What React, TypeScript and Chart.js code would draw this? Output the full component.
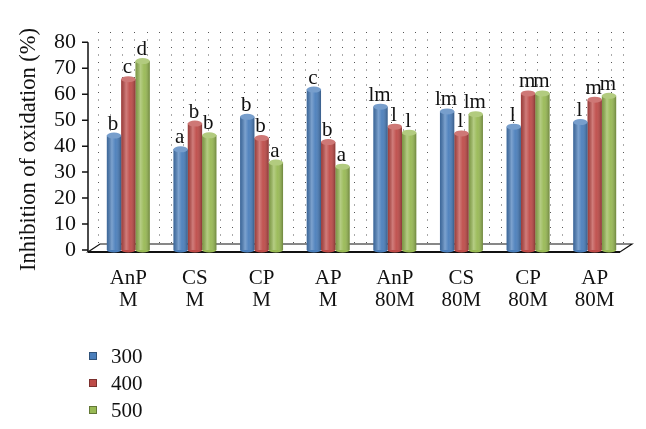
import React, { useEffect, useRef } from 'react';
import { Chart, registerables } from 'chart.js';

Chart.register(...registerables);

// ---- data ----
const categories: string[][] = [
  ['AnP', 'M'], ['CS', 'M'], ['CP', 'M'], ['AP', 'M'],
  ['AnP', '80M'], ['CS', '80M'], ['CP', '80M'], ['AP', '80M'],
];
const seriesLabels = ['300', '400', '500'];
const values300 = [44.1, 38.8, 51.3, 61.8, 55.2, 53.4, 47.5, 49.3];
const values400 = [65.8, 48.7, 43.1, 41.6, 47.5, 44.9, 60.3, 57.9];
const values500 = [72.8, 44.2, 33.7, 32.1, 45.2, 52.3, 60.3, 59.4];
const letters300 = ['b', 'a', 'b', 'c', 'lm', 'lm', 'l', 'l'];
const letters400 = ['c', 'b', 'b', 'b', 'l', 'l', 'm', 'm'];
const letters500 = ['d', 'b', 'a', 'a', 'l', 'lm', 'm', 'm'];
const yTicks = [0, 10, 20, 30, 40, 50, 60, 70, 80];
const yTitle = 'Inhibition of oxidation (%)';

// ---- styles ----
const seriesColors = ['#4a7ebb', '#be4b48', '#98b954'];
const FONT = '"Liberation Serif", "Times New Roman", serif';
const TEXT = '#111';

function lighten(hex: string, t: number) {
  const n = parseInt(hex.slice(1), 16);
  const r = (n >> 16) & 255, g = (n >> 8) & 255, b = n & 255;
  const m = (c: number) => Math.round(c + (255 - c) * t);
  return `rgb(${m(r)},${m(g)},${m(b)})`;
}

const floorAndAxisPlugin = {
  id: 'floorAndAxis',
  beforeDatasetsDraw(chart: any) {
    const { ctx, chartArea: a, scales } = chart;
    const ys = scales.y;
    const y0 = ys.getPixelForValue(0);
    ctx.save();
    ctx.beginPath();
    ctx.moveTo(a.left - 7, y0 + 2);
    ctx.lineTo(a.right - 8, y0 + 2);
    ctx.lineTo(a.right + 4, y0 - 6);
    ctx.lineTo(a.left + 5, y0 - 6);
    ctx.closePath();
    ctx.fillStyle = '#fff';
    ctx.fill();
    ctx.strokeStyle = '#111';
    ctx.lineWidth = 1.2;
    ctx.stroke();
    ctx.beginPath();
    ctx.lineWidth = 2;
    ctx.moveTo(a.left - 7, y0 + 2);
    ctx.lineTo(a.right - 8, y0 + 2);
    ctx.stroke();
    const ax = a.left - 7;
    ctx.lineWidth = 1.5;
    ctx.beginPath();
    ctx.moveTo(ax, ys.getPixelForValue(yTicks[yTicks.length - 1]));
    ctx.lineTo(ax, y0 + 2);
    for (const v of yTicks) {
      const py = ys.getPixelForValue(v);
      ctx.moveTo(ax - 6, py);
      ctx.lineTo(ax, py);
    }
    ctx.stroke();
    ctx.restore();
  },
};

const cylinderAndLettersPlugin = {
  id: 'cylLetters',
  afterDatasetsDraw(chart: any) {
    const { ctx } = chart;
    const allLetters = [letters300, letters400, letters500];
    ctx.save();
    chart.data.datasets.forEach((ds: any, di: number) => {
      const meta = chart.getDatasetMeta(di);
      meta.data.forEach((el: any, i: number) => {
        const { x, y, base, width } = el.getProps(['x', 'y', 'base', 'width'], true);
        const l = x - width / 2;
        const g = ctx.createLinearGradient(l, 0, l + width, 0);
        g.addColorStop(0, 'rgba(0,0,0,0.18)');
        g.addColorStop(0.35, 'rgba(255,255,255,0.28)');
        g.addColorStop(0.6, 'rgba(255,255,255,0.05)');
        g.addColorStop(1, 'rgba(0,0,0,0.28)');
        ctx.fillStyle = g;
        ctx.fillRect(l, y, width, base - y);
        ctx.beginPath();
        ctx.ellipse(x, base, width / 2, 2.5, 0, 0, Math.PI);
        ctx.fillStyle = ds.backgroundColor;
        ctx.fill();
        ctx.beginPath();
        ctx.ellipse(x, y, width / 2, 3, 0, 0, Math.PI * 2);
        ctx.fillStyle = lighten(seriesColors[di], 0.25);
        ctx.fill();
        ctx.fillStyle = TEXT;
        ctx.font = `21px ${FONT}`;
        ctx.textAlign = 'center';
        ctx.textBaseline = 'alphabetic';
        ctx.fillText(allLetters[di][i], x - 1, y - 6);
      });
    });
    ctx.restore();
  },
};

const legendPlugin = {
  id: 'vertLegend',
  afterDraw(chart: any) {
    const { ctx, chartArea: a } = chart;
    ctx.save();
    ctx.font = `21px ${FONT}`;
    ctx.textAlign = 'left';
    ctx.textBaseline = 'middle';
    chart.data.datasets.forEach((ds: any, i: number) => {
      const cy = a.bottom + 106 + i * 27;
      const bx = a.left - 6;
      ctx.fillStyle = ds.backgroundColor;
      ctx.fillRect(bx, cy - 4, 8, 8);
      ctx.strokeStyle = 'rgba(0,0,0,0.35)';
      ctx.lineWidth = 1;
      ctx.strokeRect(bx + 0.5, cy - 3.5, 7, 7);
      ctx.fillStyle = TEXT;
      ctx.fillText(ds.label, bx + 22, cy + 1);
    });
    ctx.restore();
  },
};

export default function App() {
  const ref = useRef<HTMLCanvasElement>(null);
  useEffect(() => {
    document.body.style.margin = '0';
    const seriesValues = [values300, values400, values500];
    const chart = new Chart(ref.current as HTMLCanvasElement, {
      type: 'bar',
      data: {
        labels: categories,
        datasets: seriesLabels.map((lab, i) => ({
          label: lab,
          data: seriesValues[i],
          backgroundColor: seriesColors[i],
          borderWidth: 0,
          barPercentage: 1,
          categoryPercentage: 0.645,
          xAxisID: 'x',
          yAxisID: 'y',
        })),
      },
      options: {
        responsive: false,
        devicePixelRatio: 1,
        animation: false,
        layout: { padding: { top: 14, right: 18, bottom: 119, left: 0 } },
        plugins: { legend: { display: false }, tooltip: { enabled: false } },
        scales: {
          x: {
            type: 'category',
            offset: true,
            grid: { display: false, drawTicks: false },
            border: { display: false },
            ticks: {
              color: TEXT,
              font: { family: FONT, size: 21, lineHeight: 1.05 },
              padding: 17,
              maxRotation: 0,
              autoSkip: false,
            },
            afterFit: (s: any) => { s.height = 60; },
          },
          xDots: {
            type: 'linear',
            position: 'top',
            min: -0.264,
            max: 42.376,
            grid: { display: true, drawTicks: false, color: '#555', lineWidth: 1, drawOnChartArea: true },
            border: { display: false, dash: [1, 6.5] },
            ticks: { display: false, stepSize: 1, includeBounds: false, maxTicksLimit: 100 },
            afterFit: (s: any) => { s.height = 0; },
          },
          y: {
            type: 'linear',
            position: 'left',
            min: 0,
            max: 83.9,
            grid: { display: false, drawTicks: false },
            border: { display: false },
            afterBuildTicks: (s: any) => { s.ticks = yTicks.map((v) => ({ value: v })); },
            ticks: { color: TEXT, padding: 19, autoSkip: false, font: { family: FONT, size: 22 } },
            title: {
              display: true,
              text: yTitle + '   ',
              color: TEXT,
              font: { family: FONT, size: 22.5 },
              padding: { top: 16, bottom: 0 },
            },
            afterFit: (s: any) => { s.width = 95; },
          },
        },
      } as any,
      plugins: [floorAndAxisPlugin, cylinderAndLettersPlugin, legendPlugin],
    });
    return () => chart.destroy();
  }, []);
  return (
    <div style={{ width: 646, height: 429 }}>
      <canvas ref={ref} width={646} height={429} style={{ display: 'block' }} />
    </div>
  );
}
